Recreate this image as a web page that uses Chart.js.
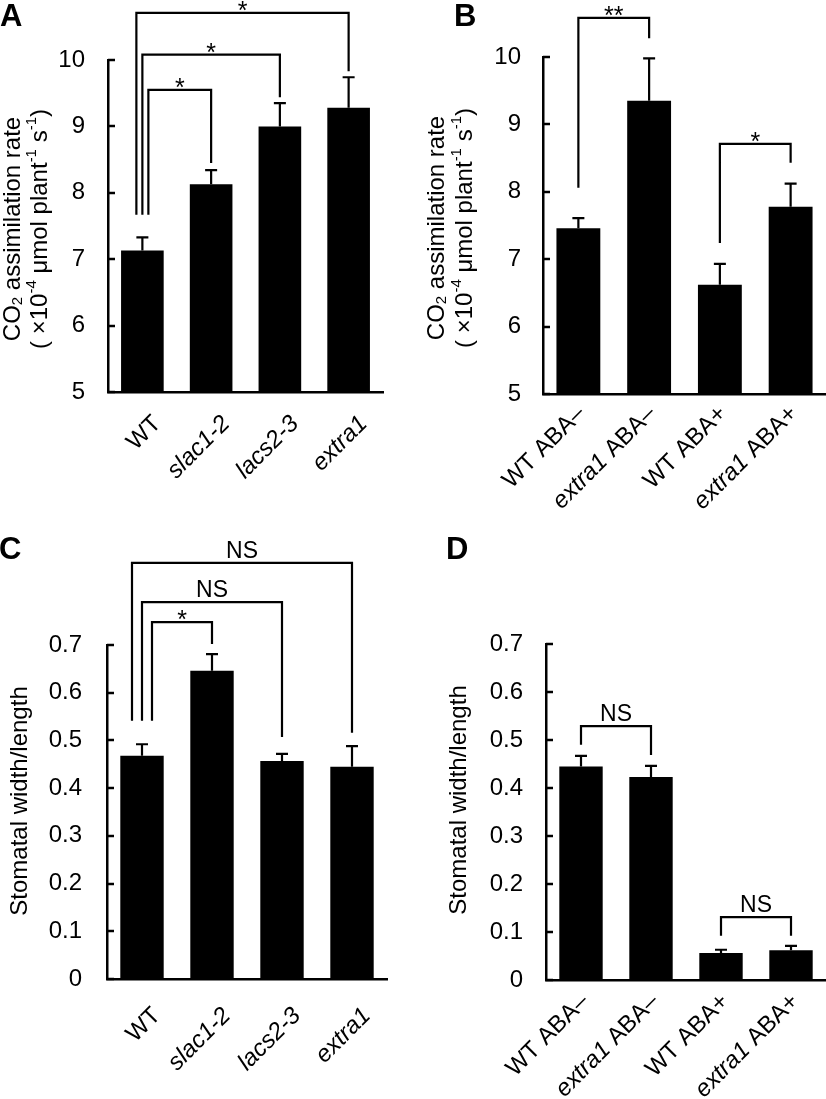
<!DOCTYPE html>
<html>
<head>
<meta charset="utf-8">
<script src="https://cdn.jsdelivr.net/npm/chart.js@4.4.0/dist/chart.umd.min.js"></script>
<style>
  body { margin: 0; background: #fff; width: 826px; height: 1099px; position: relative; overflow: hidden; font-family: "Liberation Sans", Arial, sans-serif; }
  .panel { position: absolute; }
  .letter { position: absolute; font-weight: bold; font-size: 31px; line-height: 31px; color: #000; z-index: 2; }
</style>
</head>
<body>
<div class="letter" style="left:0px;top:0px">A</div>
<div class="letter" style="left:454px;top:0px">B</div>
<div class="letter" style="left:-1px;top:533px">C</div>
<div class="letter" style="left:446px;top:533px">D</div>

<div class="panel" style="left:0;top:0;width:413px;height:550px"><canvas id="chartA"></canvas></div>
<div class="panel" style="left:413px;top:0;width:413px;height:550px"><canvas id="chartB"></canvas></div>
<div class="panel" style="left:0;top:520px;width:413px;height:579px"><canvas id="chartC"></canvas></div>
<div class="panel" style="left:413px;top:520px;width:413px;height:579px"><canvas id="chartD"></canvas></div>

<script>
// categories
var mutantLabels = ['WT', 'slac1-2', 'lacs2-3', 'extra1'];
var abaGenotypes = ['WT', 'extra1', 'WT', 'extra1'];
var abaTreatments = ['ABA–', 'ABA–', 'ABA+', 'ABA+'];

// CO2 assimilation rate (x10^-4 umol plant-1 s-1), mean and SE
var co2Mutant = [7.13, 8.13, 9.00, 9.28];
var co2MutantErr = [0.20, 0.21, 0.35, 0.46];
var co2Aba = [7.46, 9.35, 6.62, 7.78];
var co2AbaErr = [0.15, 0.63, 0.31, 0.34];

// stomatal width/length, mean and SE
var stomaMutant = [0.468, 0.646, 0.457, 0.445];
var stomaMutantErr = [0.024, 0.035, 0.015, 0.043];
var stomaAba = [0.445, 0.423, 0.056, 0.062];
var stomaAbaErr = [0.022, 0.023, 0.007, 0.009];

// tick labels
var co2Ticks = [5, 6, 7, 8, 9, 10];
var stomaTicks = [0, 0.1, 0.2, 0.3, 0.4, 0.5, 0.6, 0.7];

// significance brackets (levels in data units)
var sigA = [
  { from: 0, to: 1, foot: 7.67, top: 9.55, end: 8.45, text: '*' },
  { from: 0, to: 2, foot: 7.67, top: 10.08, end: 9.44, text: '*' },
  { from: 0, to: 3, foot: 7.67, top: 10.71, end: 9.83, text: '*' }
];
var sigB = [
  { from: 0, to: 1, foot: 8.06, top: 10.58, end: 10.28, text: '**' },
  { from: 2, to: 3, foot: 7.24, top: 8.71, end: 8.43, text: '*' }
];
var sigC = [
  { from: 0, to: 1, foot: 0.541, top: 0.748, end: 0.702, text: '*' },
  { from: 0, to: 2, foot: 0.541, top: 0.790, end: 0.507, text: 'NS' },
  { from: 0, to: 3, foot: 0.541, top: 0.872, end: 0.516, text: 'NS' }
];
var sigD = [
  { from: 0, to: 1, foot: 0.490, top: 0.529, end: 0.469, text: 'NS' },
  { from: 2, to: 3, foot: 0.092, top: 0.131, end: 0.092, text: 'NS' }
];

var FONT = '"Liberation Sans", Arial, sans-serif';

function fontFor(style, size) {
  var s = (style === 'sup' || style === 'sub') ? Math.round(size * 0.62) : size;
  return (style === 'i' ? 'italic ' : '') + s + 'px ' + FONT;
}

function drawRich(ctx, parts, x, y, size, align) {
  var total = 0;
  parts.forEach(function(p) {
    ctx.font = fontFor(p[1], size);
    total += ctx.measureText(p[0]).width;
  });
  var cx = x;
  if (align === 'right') cx = x - total;
  if (align === 'center') cx = x - total / 2;
  ctx.textAlign = 'left';
  parts.forEach(function(p) {
    ctx.font = fontFor(p[1], size);
    var dy = 0;
    if (p[1] === 'sup') dy = -size * 0.36;
    if (p[1] === 'sub') dy = size * 0.22;
    ctx.fillText(p[0], cx, y + dy);
    cx += ctx.measureText(p[0]).width;
  });
}

function makeChart(cfg) {
  var annot = {
    id: 'annot' + cfg.id,
    afterDraw: function(chart) {
      var ctx = chart.ctx;
      var xs = chart.scales.x;
      var ys = chart.scales.y;
      var area = chart.chartArea;
      ctx.save();
      ctx.strokeStyle = '#000';
      ctx.fillStyle = '#000';
      ctx.lineCap = 'butt';

      // inward tick marks
      ctx.lineWidth = 2.5;
      ys.ticks.forEach(function(t) {
        var py = Math.round(ys.getPixelForValue(t.value));
        ctx.beginPath();
        ctx.moveTo(area.left, py);
        ctx.lineTo(area.left + 7, py);
        ctx.stroke();
      });

      // error bars (upper only)
      ctx.lineWidth = 2.2;
      var meta = chart.getDatasetMeta(0);
      meta.data.forEach(function(bar, i) {
        var yTop = ys.getPixelForValue(cfg.values[i] + cfg.errors[i]);
        ctx.beginPath();
        ctx.moveTo(bar.x, bar.y);
        ctx.lineTo(bar.x, yTop);
        ctx.moveTo(bar.x - 6, yTop);
        ctx.lineTo(bar.x + 6, yTop);
        ctx.stroke();
      });

      // significance brackets
      cfg.brackets.forEach(function(b, k) {
        var x0 = xs.getPixelForValue(b.from) + cfg.nudge[k];
        var x1 = xs.getPixelForValue(b.to);
        var yf = ys.getPixelForValue(b.foot);
        var yt = ys.getPixelForValue(b.top);
        var ye = ys.getPixelForValue(b.end);
        ctx.lineWidth = 2.2;
        ctx.beginPath();
        ctx.moveTo(x0, yf);
        ctx.lineTo(x0, yt);
        ctx.lineTo(x1, yt);
        ctx.lineTo(x1, ye);
        ctx.stroke();
        ctx.textBaseline = 'alphabetic';
        ctx.textAlign = 'center';
        var mid = (x0 + x1) / 2;
        if (b.text === 'NS') {
          ctx.font = '23px ' + FONT;
          ctx.fillText(b.text, mid, yt - 5);
        } else {
          ctx.font = '25px ' + FONT;
          ctx.fillText(b.text, mid, yt + 6);
        }
      });

      // rotated category labels
      ctx.textBaseline = 'middle';
      cfg.labelParts.forEach(function(parts, i) {
        var px = xs.getPixelForValue(i) + cfg.labelDx;
        var py = area.bottom + cfg.labelDy;
        ctx.save();
        ctx.translate(px, py);
        ctx.rotate(-Math.PI / 4);
        drawRich(ctx, parts, 0, 0, 24, 'right');
        ctx.restore();
      });

      // y axis title
      cfg.title.forEach(function(line, j) {
        ctx.save();
        ctx.translate(cfg.titleX[j], cfg.titleY);
        ctx.rotate(-Math.PI / 2);
        ctx.textBaseline = 'middle';
        drawRich(ctx, line, 0, 0, 24, 'center');
        ctx.restore();
      });

      ctx.restore();
    }
  };

  return new Chart(document.getElementById(cfg.id), {
    type: 'bar',
    data: {
      labels: cfg.labels,
      datasets: [{
        data: cfg.values,
        backgroundColor: '#000',
        borderWidth: 0,
        barPercentage: 0.62,
        categoryPercentage: 1.0
      }]
    },
    options: {
      responsive: true,
      maintainAspectRatio: false,
      animation: false,
      devicePixelRatio: 1,
      layout: { padding: { left: 0, top: cfg.padTop, right: cfg.padRight, bottom: 0 } },
      plugins: { legend: { display: false }, tooltip: { enabled: false } },
      scales: {
        x: {
          grid: { display: false, drawTicks: false },
          border: { display: true, color: '#000', width: 2.5 },
          ticks: { display: false },
          afterFit: function(scale) { scale.height = cfg.xHeight; }
        },
        y: {
          min: cfg.min,
          max: cfg.max,
          grid: { display: false, drawTicks: false },
          border: { display: true, color: '#000', width: 2.5 },
          ticks: {
            color: '#000',
            padding: cfg.tickPad,
            font: { family: FONT, size: 24 },
            callback: function(v) { return String(v); }
          },
          afterBuildTicks: function(scale) {
            scale.ticks = cfg.ticks.map(function(v) { return { value: v }; });
          },
          afterFit: function(scale) { scale.width = cfg.yWidth; }
        }
      }
    },
    plugins: [annot]
  });
}

var co2Title = [
  [['CO', ''], ['2', 'sub'], [' assimilation rate', '']],
  [['( ×10', ''], ['-4', 'sup'], [' μmol plant', ''], ['-1', 'sup'], [' s', ''], ['-1', 'sup'], [')', '']]
];
var stomaTitle = [
  [['Stomatal width/length', '']]
];

var mutantParts = mutantLabels.map(function(l) { return [[l, l === 'WT' ? '' : 'i']]; });
var abaParts = abaGenotypes.map(function(g, i) { return [[g, g === 'WT' ? '' : 'i'], [' ' + abaTreatments[i], '']]; });
var abaLabels = abaGenotypes.map(function(g, i) { return g + ' ' + abaTreatments[i]; });

makeChart({
  id: 'chartA', labels: mutantLabels, labelParts: mutantParts,
  values: co2Mutant, errors: co2MutantErr, ticks: co2Ticks, min: 5, max: 10,
  brackets: sigA, nudge: [6, 0, -6],
  padTop: 60, padRight: 30, xHeight: 158, yWidth: 108, tickPad: 23,
  labelDx: 15, labelDy: 28,
  title: co2Title, titleX: [13, 40], titleY: 229
});

makeChart({
  id: 'chartB', labels: abaLabels, labelParts: abaParts,
  values: co2Aba, errors: co2AbaErr, ticks: co2Ticks, min: 5, max: 10,
  brackets: sigB, nudge: [0, 0],
  padTop: 57, padRight: 0, xHeight: 156, yWidth: 130, tickPad: 22,
  labelDx: 3, labelDy: 16,
  title: co2Title, titleX: [24, 52], titleY: 228
});

makeChart({
  id: 'chartC', labels: mutantLabels, labelParts: mutantParts,
  values: stomaMutant, errors: stomaMutantErr, ticks: stomaTicks, min: 0, max: 0.7,
  brackets: sigC, nudge: [10, 0, -10],
  padTop: 125, padRight: 26, xHeight: 120, yWidth: 107, tickPad: 25,
  labelDx: 15, labelDy: 33,
  title: stomaTitle, titleX: [20], titleY: 281
});

makeChart({
  id: 'chartD', labels: abaLabels, labelParts: abaParts,
  values: stomaAba, errors: stomaAbaErr, ticks: stomaTicks, min: 0, max: 0.7,
  brackets: sigD, nudge: [0, 0],
  padTop: 124, padRight: 0, xHeight: 119, yWidth: 133, tickPad: 23,
  labelDx: 4, labelDy: 18,
  title: stomaTitle, titleX: [46], titleY: 280
});
</script>
</body>
</html>
